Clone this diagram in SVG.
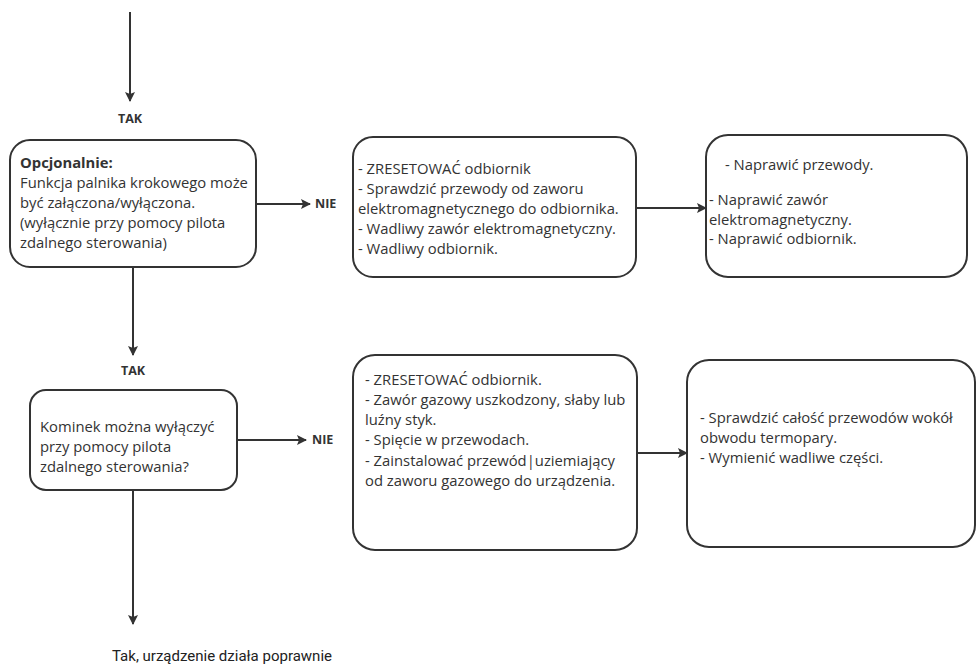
<svg xmlns="http://www.w3.org/2000/svg" width="976" height="668" viewBox="0 0 976 668">
<defs>
<marker id="ah" viewBox="0 0 10 10" refX="9" refY="5" markerWidth="5.5" markerHeight="5" orient="auto" markerUnits="strokeWidth"><path d="M0,0 L10,5 L0,10 L2,5 z" fill="#333"/></marker>
</defs>
<style>
.box{fill:#fff;stroke:#333;stroke-width:2}
.t{font-family:"Open Sans","Noto Sans",sans-serif;font-size:14.8px;fill:#333}
.b{font-family:"Open Sans","Noto Sans",sans-serif;font-size:12.5px;font-weight:bold;fill:#333}
.c{stroke:#333;stroke-width:2;fill:none;marker-end:url(#ah)}
.f{font-family:Roboto,"Liberation Sans",sans-serif;font-size:15px;fill:#222}
</style>
<g id="connectors">
<line class="c" x1="130" y1="12" x2="130" y2="101"/>
<text class="b" x="130" y="123" text-anchor="middle">TAK</text>
<line class="c" x1="256" y1="204" x2="310" y2="204"/>
<text class="b" x="315" y="208">NIE</text>
<line class="c" x1="636" y1="208" x2="706" y2="208"/>
<line class="c" x1="133" y1="267" x2="133" y2="355"/>
<text class="b" x="133" y="375" text-anchor="middle">TAK</text>
<line class="c" x1="237" y1="440" x2="306" y2="440"/>
<text class="b" x="312" y="444">NIE</text>
<line class="c" x1="637" y1="453" x2="687" y2="453"/>
<line class="c" x1="133" y1="490" x2="133" y2="624"/>
<text class="f" x="112" y="661">Tak, urządzenie działa poprawnie</text>
</g>
<g id="n1">
<rect class="box" x="10" y="140" width="246" height="127" rx="20"/>
<text class="t" x="20" y="168" font-weight="bold">Opcjonalnie:</text>
<text class="t" x="20" y="188">Funkcja palnika krokowego może</text>
<text class="t" x="20" y="208">być załączona/wyłączona.</text>
<text class="t" x="20" y="228">(wyłącznie przy pomocy pilota</text>
<text class="t" x="20" y="248">zdalnego sterowania)</text>
</g>
<g id="n2">
<rect class="box" x="353" y="137" width="283" height="140" rx="20"/>
<text class="t" x="358" y="174">- ZRESETOWAĆ odbiornik</text>
<text class="t" x="358" y="194">- Sprawdzić przewody od zaworu</text>
<text class="t" x="358" y="214">elektromagnetycznego do odbiornika.</text>
<text class="t" x="358" y="234">- Wadliwy zawór elektromagnetyczny.</text>
<text class="t" x="358" y="254">- Wadliwy odbiornik.</text>
</g>
<g id="n3">
<rect class="box" x="706" y="135" width="261" height="142" rx="22"/>
<text class="t" x="725" y="170">- Naprawić przewody.</text>
<text class="t" x="709" y="205">- Naprawić zawór</text>
<text class="t" x="709" y="225">elektromagnetyczny.</text>
<text class="t" x="709" y="244">- Naprawić odbiornik.</text>
</g>
<g id="n4">
<rect class="box" x="30" y="390" width="207" height="100" rx="16"/>
<text class="t" x="40" y="432">Kominek można wyłączyć</text>
<text class="t" x="40" y="452">przy pomocy pilota</text>
<text class="t" x="40" y="472">zdalnego sterowania?</text>
</g>
<g id="n5">
<rect class="box" x="353" y="355" width="284" height="195" rx="22"/>
<text class="t" x="365" y="385">- ZRESETOWAĆ odbiornik.</text>
<text class="t" x="365" y="405">- Zawór gazowy uszkodzony, słaby lub</text>
<text class="t" x="365" y="425">luźny styk.</text>
<text class="t" x="365" y="445">- Spięcie w przewodach.</text>
<text class="t" x="365" y="466">- Zainstalować przewód|uziemiający</text>
<text class="t" x="365" y="486">od zaworu gazowego do urządzenia.</text>
</g>
<g id="n6">
<rect class="box" x="687" y="360" width="288" height="187" rx="22"/>
<text class="t" x="700" y="423">- Sprawdzić całość przewodów wokół</text>
<text class="t" x="700" y="443">obwodu termopary.</text>
<text class="t" x="700" y="463">- Wymienić wadliwe części.</text>
</g>
</svg>
